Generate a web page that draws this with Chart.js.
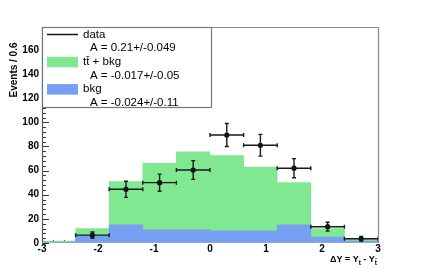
<!DOCTYPE html>
<html>
<head>
<meta charset="utf-8">
<script src="https://cdn.jsdelivr.net/npm/chart.js@4.4.0/dist/chart.umd.min.js"></script>
<style>
  html, body { margin: 0; padding: 0; background: #fff; }
</style>
</head>
<body>
<canvas id="chart" width="421" height="270"></canvas>
<script>
// histogram bins (width 0.6), centers
const binCenters = [-2.7, -2.1, -1.5, -0.9, -0.3, 0.3, 0.9, 1.5, 2.1, 2.7];
const binHalf = 0.3;
const ttbarBkg = [1.5, 12, 51, 66, 75.5, 72.5, 63, 50, 12, 3.5];
const bkgOnly = [0.8, 6, 15, 11, 11, 10, 10, 15, 5, 1.5];

// data points with errors
const dataX = [-2.1, -1.5, -0.9, -0.3, 0.3, 0.9, 1.5, 2.1, 2.7];
const dataY = [6.5, 44.5, 50, 60.5, 89.5, 81, 62, 13.5, 3.5];
const dataErr = [2.6, 6.7, 7.1, 7.8, 9.5, 9, 7.9, 3.7, 1.9];

const legendRows = [
  { kind: "line", label: "data", asym: "A = 0.21+/-0.049" },
  { kind: "box", color: "#80e890", label: "tt\u0304 + bkg", asym: "A = -0.017+/-0.05" },
  { kind: "box", color: "#76a0f4", label: "bkg", asym: "A = -0.024+/-0.11" }
];

const FONT = "'Liberation Sans', Arial, Helvetica, sans-serif";

const rootStyle = {
  id: "rootStyle",
  beforeDatasetsDraw(chart) {
    const ctx = chart.ctx;
    const x = chart.scales.x, y = chart.scales.y;
    const a = chart.chartArea;
    ctx.save();
    ctx.strokeStyle = "#333";
    ctx.lineWidth = 1;
    ctx.beginPath();
    // y ticks inside the frame
    for (let v = 0; v <= 176; v += 4) {
      const py = Math.round(y.getPixelForValue(v)) + 0.5;
      const len = v % 20 === 0 ? 7 : 4;
      ctx.moveTo(a.left, py);
      ctx.lineTo(a.left + len, py);
    }
    // x ticks inside the frame
    for (let i = 0; i <= 30; i++) {
      const v = -3 + i * 0.2;
      const px = Math.round(x.getPixelForValue(v)) + 0.5;
      const len = i % 5 === 0 ? 6 : 3;
      ctx.moveTo(px, a.bottom);
      ctx.lineTo(px, a.bottom - len);
    }
    ctx.stroke();
    ctx.restore();
  },
  afterDatasetsDraw(chart) {
    const ctx = chart.ctx;
    const x = chart.scales.x, y = chart.scales.y;
    const a = chart.chartArea;
    ctx.save();

    // error bars
    ctx.strokeStyle = "#1a1a1a";
    ctx.lineWidth = 1.4;
    ctx.beginPath();
    dataX.forEach((v, i) => {
      const px = x.getPixelForValue(v);
      const py = y.getPixelForValue(dataY[i]);
      const x1 = x.getPixelForValue(v - binHalf);
      const x2 = x.getPixelForValue(v + binHalf);
      const y1 = y.getPixelForValue(dataY[i] - dataErr[i]);
      const y2 = y.getPixelForValue(dataY[i] + dataErr[i]);
      ctx.moveTo(x1, py); ctx.lineTo(x2, py);
      ctx.moveTo(x1, py - 2); ctx.lineTo(x1, py + 2);
      ctx.moveTo(x2, py - 2); ctx.lineTo(x2, py + 2);
      ctx.moveTo(px, y1); ctx.lineTo(px, y2);
      ctx.moveTo(px - 2, y1); ctx.lineTo(px + 2, y1);
      ctx.moveTo(px - 2, y2); ctx.lineTo(px + 2, y2);
    });
    ctx.stroke();

    // frame
    ctx.lineWidth = 1.2;
    ctx.strokeStyle = "#888";
    ctx.beginPath();
    ctx.moveTo(a.left, a.top + 0.5); ctx.lineTo(a.right + 0.5, a.top + 0.5);
    ctx.lineTo(a.right + 0.5, a.bottom);
    ctx.stroke();
    ctx.strokeStyle = "#555";
    ctx.beginPath();
    ctx.moveTo(a.left + 0.5, a.top); ctx.lineTo(a.left + 0.5, a.bottom);
    ctx.stroke();
    ctx.strokeStyle = "#9aa8c8";
    ctx.beginPath();
    ctx.moveTo(a.left, a.bottom - 0.5); ctx.lineTo(a.right, a.bottom - 0.5);
    ctx.stroke();

    // legend box
    const lx = a.left + 0.5, ly = a.top + 0.5, lw = 169, lh = 80;
    ctx.fillStyle = "#fff";
    ctx.fillRect(lx, ly, lw, lh);
    ctx.strokeStyle = "#777";
    ctx.lineWidth = 1.2;
    ctx.strokeRect(lx, ly, lw, lh);

    ctx.font = "11.5px " + FONT;
    ctx.textBaseline = "middle";
    ctx.textAlign = "left";
    legendRows.forEach((r, i) => {
      const cy = a.top + 7.5 + i * 27.3;
      if (r.kind === "line") {
        ctx.strokeStyle = "#111";
        ctx.lineWidth = 1.5;
        ctx.beginPath();
        ctx.moveTo(a.left + 5, cy); ctx.lineTo(a.left + 36, cy);
        ctx.stroke();
      } else {
        ctx.fillStyle = r.color;
        ctx.fillRect(a.left + 5, cy - 5, 31, 10.5);
      }
      ctx.fillStyle = "#000";
      ctx.fillText(r.label, a.left + 41, cy);
      ctx.fillText(r.asym, a.left + 48, cy + 13.7);
    });

    // y title
    ctx.save();
    ctx.translate(14, 70);
    ctx.rotate(-Math.PI / 2);
    ctx.font = "bold 10px " + FONT;
    ctx.textAlign = "center";
    ctx.fillText("Events / 0.6", 0, 0);
    ctx.restore();

    // x title with subscripts
    const main = "bold 9px " + FONT, sub = "bold 6.5px " + FONT;
    const parts = [["\u0394Y = Y", main, 0], ["t", sub, 2.5], [" - Y", main, 0], ["t\u0304", sub, 2.5]];
    let total = 0;
    parts.forEach(p => { ctx.font = p[1]; total += ctx.measureText(p[0]).width; });
    let cx = 377 - total;
    ctx.textBaseline = "alphabetic";
    ctx.textAlign = "left";
    parts.forEach(p => {
      ctx.font = p[1];
      ctx.fillText(p[0], cx, 262 + p[2]);
      cx += ctx.measureText(p[0]).width;
    });

    ctx.restore();
  }
};

new Chart(document.getElementById("chart"), {
  data: {
    datasets: [
      {
        type: "scatter",
        label: "data",
        data: dataX.map((v, i) => ({ x: v, y: dataY[i] })),
        pointRadius: 2.6,
        pointBackgroundColor: "#000",
        pointBorderWidth: 0,
        order: 0
      },
      {
        type: "bar",
        label: "bkg",
        data: binCenters.map((v, i) => ({ x: v, y: bkgOnly[i] })),
        backgroundColor: "#76a0f4",
        borderWidth: 0,
        barPercentage: 1,
        categoryPercentage: 1,
        grouped: false,
        order: 1
      },
      {
        type: "bar",
        label: "tt + bkg",
        data: binCenters.map((v, i) => ({ x: v, y: ttbarBkg[i] })),
        backgroundColor: "#80e890",
        borderWidth: 0,
        barPercentage: 1,
        categoryPercentage: 1,
        grouped: false,
        order: 2
      }
    ]
  },
  options: {
    responsive: false,
    animation: false,
    layout: { padding: { top: 27, right: 43, left: 0, bottom: 0 } },
    plugins: { legend: { display: false }, tooltip: { enabled: false } },
    scales: {
      x: {
        type: "linear",
        min: -3,
        max: 3,
        offset: false,
        grid: { display: false, drawTicks: false },
        border: { display: false },
        ticks: { stepSize: 1, padding: 0, color: "#000", font: { family: FONT, size: 10, weight: "bold" }, maxRotation: 0 },
        afterFit: (s) => { s.height = 27; }
      },
      y: {
        min: 0,
        max: 179,
        grid: { display: false, drawTicks: false },
        border: { display: false },
        ticks: { stepSize: 20, includeBounds: false, padding: 3, color: "#000", font: { family: FONT, size: 10, weight: "bold" } },
        afterFit: (s) => { s.width = 42; }
      }
    }
  },
  plugins: [rootStyle]
});
</script>
</body>
</html>
